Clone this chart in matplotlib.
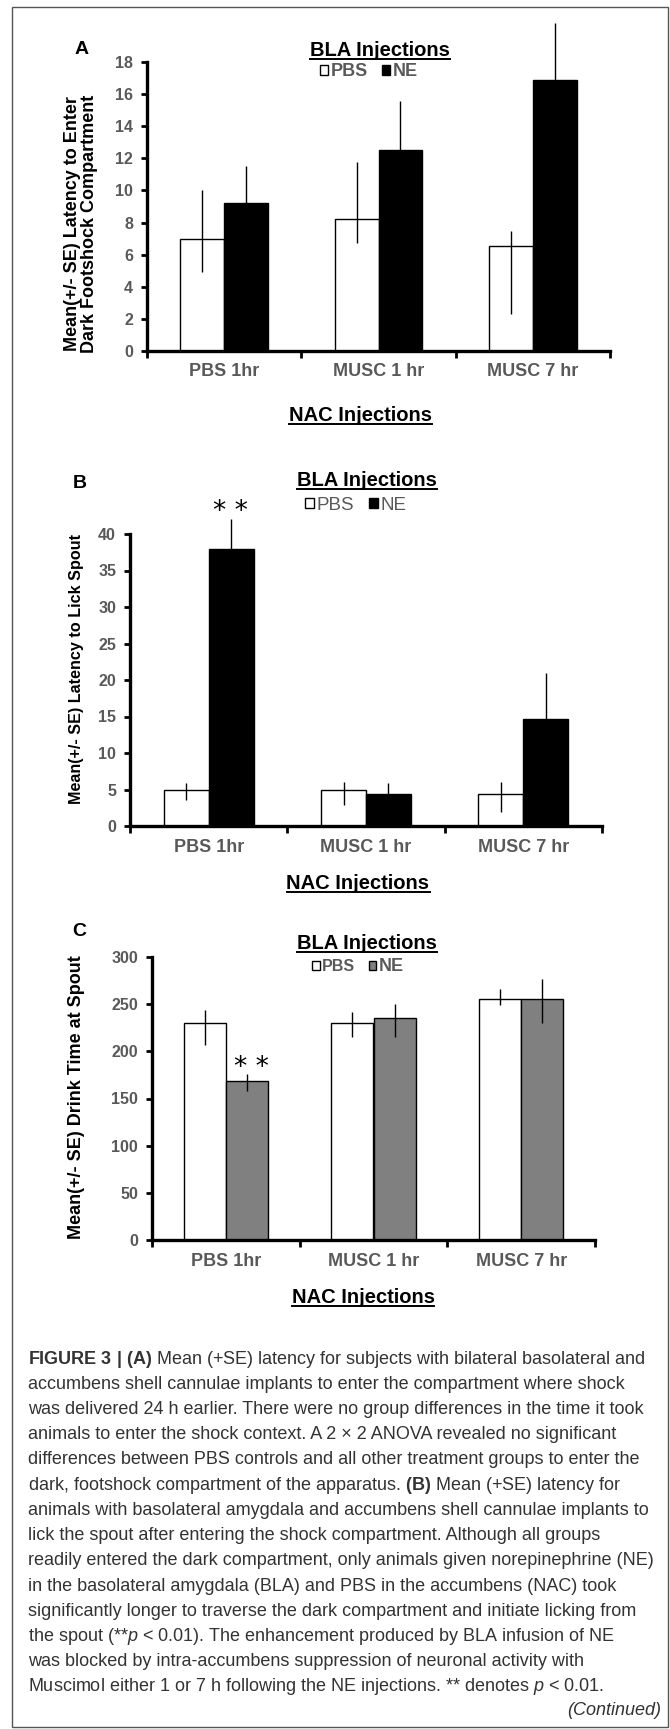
import numpy as np
import matplotlib
matplotlib.use("Agg")
import matplotlib.pyplot as plt
from matplotlib.patches import Rectangle
from matplotlib.lines import Line2D

categories = ["PBS 1hr", "MUSC 1 hr", "MUSC 7 hr"]

# A: latency to enter dark footshock compartment
a_pbs = [7.0, 8.25, 6.55]
a_pbs_up = [3.0, 3.55, 0.9]
a_pbs_down = [2.1, 1.55, 4.25]
a_ne = [9.2, 12.5, 16.9]
a_ne_up = [2.35, 3.05, 3.5]

# B: latency to lick spout
b_pbs = [4.9, 5.0, 4.4]
b_pbs_up = [1.0, 1.0, 1.6]
b_pbs_down = [1.3, 2.15, 2.5]
b_ne = [38.0, 4.4, 14.7]
b_ne_up = [4.1, 1.5, 6.2]

# C: drink time at spout
c_pbs = [230, 230, 255]
c_pbs_up = [13.5, 12, 11]
c_pbs_down = [23, 15, 6]
c_ne = [169, 235, 256]
c_ne_up = [7.5, 15.5, 21]
c_ne_down = [11, 20, 26]

caption = [
    r"$\mathbf{FIGURE\ 3\ |\ (A)}$ Mean (+SE) latency for subjects with bilateral basolateral and",
    "accumbens shell cannulae implants to enter the compartment where shock",
    "was delivered 24 h earlier. There were no group differences in the time it took",
    "animals to enter the shock context. A 2 \u00d7 2 ANOVA revealed no significant",
    "differences between PBS controls and all other treatment groups to enter the",
    r"dark, footshock compartment of the apparatus. $\mathbf{(B)}$ Mean (+SE) latency for",
    "animals with basolateral amygdala and accumbens shell cannulae implants to",
    "lick the spout after entering the shock compartment. Although all groups",
    "readily entered the dark compartment, only animals given norepinephrine (NE)",
    "in the basolateral amygdala (BLA) and PBS in the accumbens (NAC) took",
    "significantly longer to traverse the dark compartment and initiate licking from",
    r"the spout (**$\mathit{p}$ < 0.01). The enhancement produced by BLA infusion of NE",
    "was blocked by intra-accumbens suppression of neuronal activity with",
    r"Muscimol either 1 or 7 h following the NE injections. ** denotes $\mathit{p}$ < 0.01.",
]

plt.rcParams["font.family"] = ["Liberation Sans", "DejaVu Sans"]
plt.rcParams["mathtext.fontset"] = "custom"
plt.rcParams["mathtext.rm"] = "Liberation Sans"
plt.rcParams["mathtext.bf"] = "Liberation Sans:bold"
plt.rcParams["mathtext.it"] = "Liberation Sans:italic"

W, H = 670, 1729
GREY = "#595959"
fig = plt.figure(figsize=(W / 100, H / 100), dpi=100)


def fx(x):
    return x / W


def fy(y):
    return 1 - y / H


underlined = []


def draw_panel(box, pbs, pbs_err, ne, ne_err, ne_color, ymax, ystep):
    left, top, right, bottom = box
    ax = fig.add_axes([fx(left), fy(bottom), (right - left) / W, (bottom - top) / H])
    x = np.arange(len(categories))
    w = 0.285
    ax.bar(x - w / 2, pbs, w, color="white", edgecolor="black", linewidth=1, label="PBS")
    ax.bar(x + w / 2, ne, w, color=ne_color, edgecolor="black", linewidth=1, label="NE")
    for xs, ys, err in [(x - w / 2, pbs, pbs_err), (x + w / 2, ne, ne_err)]:
        eb = ax.errorbar(xs, ys, yerr=err, fmt="none", ecolor="black", elinewidth=1, capsize=0)
        for c in eb.lines[2]:
            c.set_clip_on(False)
    ax.set_xlim(-0.5, 2.5)
    ax.set_ylim(0, ymax)
    ax.set_yticks(np.arange(0, ymax + 1, ystep))
    ax.set_xticks([-0.5, 0.5, 1.5, 2.5])
    ax.set_xticklabels([])
    ax.set_xticks(x, minor=True)
    ax.set_xticklabels(categories, minor=True)
    for s in ["top", "right"]:
        ax.spines[s].set_visible(False)
    for s in ["left", "bottom"]:
        ax.spines[s].set_linewidth(2.4)
    ax.tick_params(axis="y", length=4, width=2, pad=6, labelsize=11.5, labelcolor=GREY)
    ax.tick_params(axis="x", which="major", length=5, width=2)
    ax.tick_params(axis="x", which="minor", length=0, pad=9, labelsize=13, labelcolor=GREY)
    for t in ax.get_yticklabels() + ax.get_xticklabels(minor=True):
        t.set_fontweight("bold")
    return ax


def legend(ax, cx, cy, size, weight):
    leg = ax.legend(loc="center", bbox_to_anchor=(fx(cx), fy(cy)), bbox_transform=fig.transFigure,
                    ncol=2, frameon=False, handlelength=0.45, handleheight=0.45,
                    handletextpad=0.15, columnspacing=0.8, borderpad=0, borderaxespad=0,
                    prop={"size": size, "weight": weight}, labelcolor=GREY)
    return leg


def title(text, cx, base):
    t = fig.text(fx(cx), fy(base), text, ha="center", va="baseline", fontsize=14.5,
                 fontweight="bold", color="black")
    underlined.append((t, base + 3))


# panel A
axA = draw_panel((147, 62, 610, 351), a_pbs, [a_pbs_down, a_pbs_up], a_ne, [a_ne_up, a_ne_up],
                 "black", 18, 2)
legend(axA, 369, 72, 13, "bold")
title("BLA Injections", 380, 56)
title("NAC Injections", 361, 421)
fig.text(fx(82), fy(49), "A", ha="center", va="center", fontsize=14, fontweight="bold")
fig.text(fx(81), fy(224), "Mean(+/- SE) Latency to Enter\nDark Footshock Compartment",
         rotation=90, ha="center", va="center", fontsize=13, fontweight="bold", linespacing=1.05)

# panel B
axB = draw_panel((130, 534, 602, 826), b_pbs, [b_pbs_down, b_pbs_up], b_ne, [b_ne_up, b_ne_up],
                 "black", 40, 5)
legend(axB, 356, 505, 13.5, "normal")
title("BLA Injections", 367, 486)
title("NAC Injections", 358, 889)
fig.text(fx(80), fy(483), "B", ha="center", va="center", fontsize=14, fontweight="bold")
fig.text(fx(77), fy(669), "Mean(+/- SE) Latency to Lick Spout", rotation=90,
         ha="center", va="center", fontsize=11.6, fontweight="bold")
fig.text(fx(230), fy(519), "* *", ha="center", va="baseline", fontsize=19, family="DejaVu Sans")

# panel C
axC = draw_panel((152, 957, 595, 1240), c_pbs, [c_pbs_down, c_pbs_up], c_ne, [c_ne_down, c_ne_up],
                 "#808080", 300, 50)
legC = legend(axC, 358, 967, 12, "bold")
legC.get_texts()[0].set_fontsize(11.5)
legC.get_texts()[1].set_fontsize(13)
title("BLA Injections", 367, 949)
title("NAC Injections", 363, 1303)
fig.text(fx(79), fy(932), "C", ha="center", va="center", fontsize=14, fontweight="bold")
fig.text(fx(77), fy(1097), "Mean(+/- SE) Drink Time at Spout", rotation=90,
         ha="center", va="center", fontsize=13, fontweight="bold")
fig.text(fx(251), fy(1075), "* *", ha="center", va="baseline", fontsize=19, family="DejaVu Sans")

# caption
for i, line in enumerate(caption):
    fig.text(fx(28), fy(1363.5 + 25.23 * i), line, ha="left", va="baseline",
             fontsize=13, color="#333333")
fig.text(fx(661), fy(1715), "(Continued)", ha="right", va="baseline", fontsize=13,
         color="#333333", fontstyle="italic")

fig.patches.append(Rectangle((fx(12), fy(1727)), (668 - 12) / W, (1727 - 7) / H,
                             transform=fig.transFigure, fill=False, edgecolor="#555555", lw=1))

fig.canvas.draw()
renderer = fig.canvas.get_renderer()
for t, y in underlined:
    bb = t.get_window_extent(renderer)
    fig.add_artist(Line2D([bb.x0 / W, bb.x1 / W], [fy(y), fy(y)], transform=fig.transFigure,
                          color="black", lw=1.4))

fig.savefig("out.png", dpi=100)
